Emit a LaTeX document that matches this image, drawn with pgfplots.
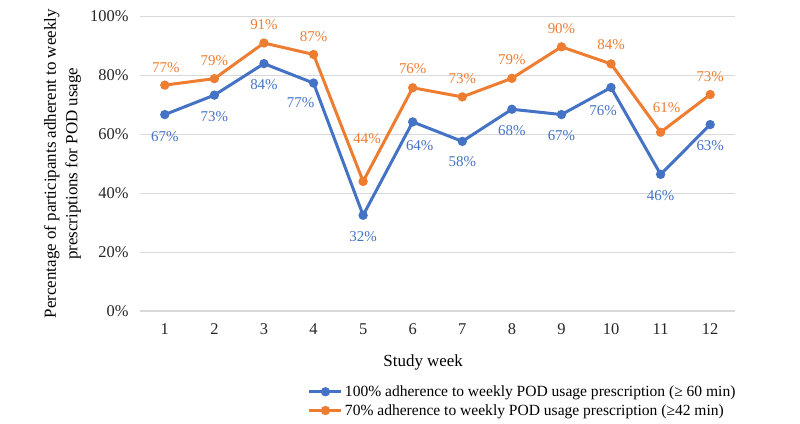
\documentclass[border=0pt]{standalone}
\usepackage{fontspec}
\setmainfont{Liberation Serif}
\usepackage{pgfplots}
\pgfplotsset{compat=1.18}
\definecolor{cblue}{HTML}{4472C4}
\definecolor{corange}{HTML}{ED7D31}
\definecolor{gridgray}{HTML}{D9D9D9}
\begin{document}
\begin{tikzpicture}
\useasboundingbox (-140bp,-113bp) rectangle (660bp,311bp);
\begin{axis}[
  at={(0,0)}, anchor=south west,
  scale only axis, width=595bp, height=294.5bp,
  xmin=0.5, xmax=12.5, ymin=0, ymax=100,
  xtick={1,2,...,12}, ytick={0,20,...,100},
  yticklabel={\pgfmathprintnumber{\tick}\%},
  /pgf/number format/assume math mode=true,
  axis line style={draw=none}, major tick style={draw=none},
  ymajorgrids, grid style={draw=gridgray, line width=1.2bp},
  ticklabel style={font=\fontsize{16.5}{19}\selectfont, text=black!85},
  yticklabel style={xshift=-8bp},
  xticklabel style={yshift=-9bp},
  xlabel={Study week},
  xlabel style={at={(axis description cs:0.476,-0.176)}, anchor=center, font=\fontsize{17}{20}\selectfont},
  ylabel={Percentage of participants adherent to weekly\\prescriptions for POD usage},
  ylabel style={at={(axis description cs:-0.1303,0.5)}, anchor=center, align=center, font=\fontsize{17}{21.5}\selectfont},
  legend style={at={(axis description cs:0.282,-0.246)}, anchor=north west, draw=none, fill=none,
    font=\fontsize{15.6}{18}\selectfont, inner sep=0pt, row sep=2.5bp},
  legend cell align=left,
  legend image code/.code={\draw[#1, mark repeat=2, mark phase=2] plot coordinates {(0bp,0bp) (16bp,0bp) (32bp,0bp)};},
  point meta=explicit symbolic,
  nodes near coords={\pgfplotspointmeta\%},
  visualization depends on={\thisrow{dx} \as \ldx},
  visualization depends on={\thisrow{dy} \as \ldy},
  clip=false,
]
\addplot[cblue, line width=3bp, mark=*, mark size=3.4bp, mark options={solid, line width=2.4bp},
  every node near coord/.style={anchor=center, xshift=\ldx bp, yshift=-\ldy bp, text=cblue, font=\fontsize{15}{17}\selectfont}]
  table[x=x, y=y, meta=l] {
x y l dx dy
1 66.7 67 0 21.7
2 73.3 73 0 21.7
3 84.0 84 0 21
4 77.4 77 -13 20
5 32.5 32 0 21.7
6 64.2 64 7 24
7 57.6 58 0 20.7
8 68.5 68 0 21.5
9 66.7 67 0 21.5
10 75.9 76 -8 23
11 46.4 46 0 21.7
12 63.3 63 0 21.4
};
\addlegendentry{100\% adherence to weekly POD usage prescription (≥ 60 min)}
\addplot[corange, line width=3bp, mark=*, mark size=3.4bp, mark options={solid, line width=2.4bp},
  every node near coord/.style={anchor=center, xshift=\ldx bp, yshift=-\ldy bp, text=corange, font=\fontsize{15}{17}\selectfont}]
  table[x=x, y=y, meta=l] {
x y l dx dy
1 76.7 77 1 -17.7
2 78.9 79 0 -18.3
3 91.0 91 0 -18.4
4 87.1 87 0 -18.3
5 44.0 44 4 -43
6 75.8 76 0 -19
7 72.7 73 0 -18.5
8 79.0 79 0 -18.5
9 89.7 90 0 -18.5
10 83.9 84 0 -19.3
11 60.7 61 6 -25
12 73.5 73 0 -18
};
\addlegendentry{70\% adherence to weekly POD usage prescription (≥42 min)}
\end{axis}
\end{tikzpicture}
\end{document}
